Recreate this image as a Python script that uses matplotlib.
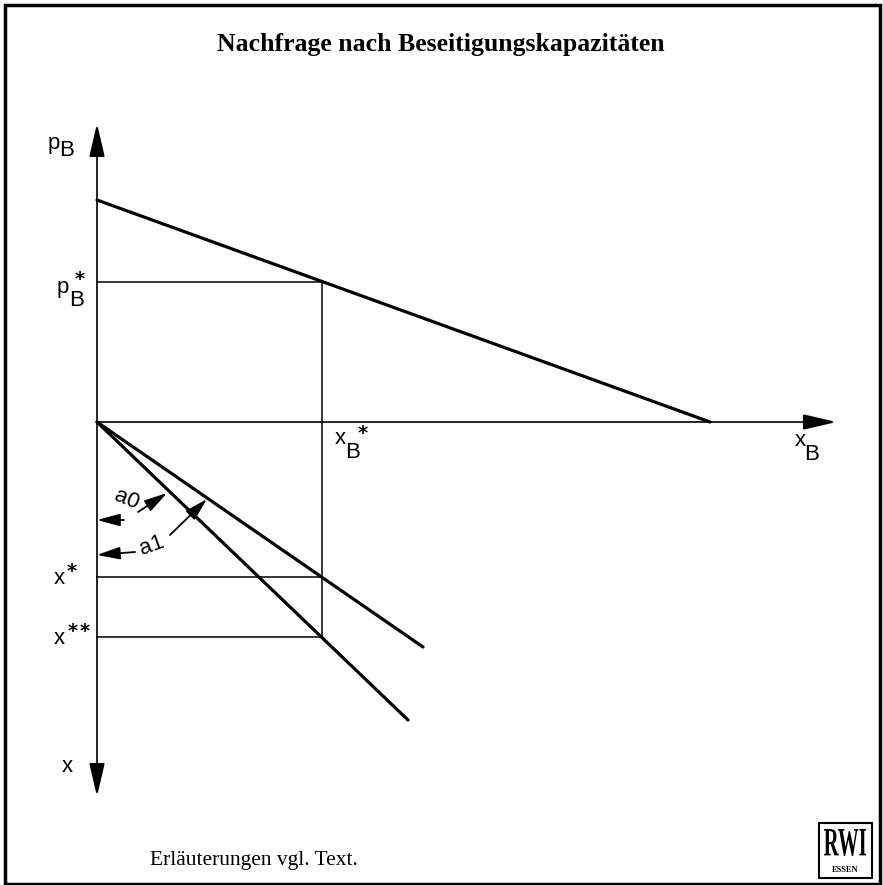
import matplotlib
matplotlib.use("Agg")
import matplotlib.pyplot as plt
from matplotlib.patches import Rectangle, Polygon, PathPatch
from matplotlib.textpath import TextPath
from matplotlib.font_manager import FontProperties
from matplotlib.transforms import Affine2D

# diagram units: origin where the two axes cross, x_B to the right, p_B up, x down
demand_xB = [0, 613]
demand_pB = [222, 0]
xB_star = 225
pB_star = 140
x_star = -155
x_2star = -215
ray_flat_xB = [0, 326]
ray_flat_x = [0, -225]
ray_steep_xB = [0, 311]
ray_steep_x = [0, -298]

W, H = 883, 885
fig = plt.figure(figsize=(W / 100, H / 100), dpi=100)
ax = fig.add_axes([0, 0, 1, 1])
ax.set_xlim(-97, W - 97)
ax.set_ylim(422 - H, 422)
ax.axis("off")

# pixel positions (top-left origin) for decoration / labels
pix = Affine2D().scale(1 / W, -1 / H).translate(0, 1) + fig.transFigure

sans = "Liberation Sans"
serif = "Liberation Serif"

# axes with arrow heads
ax.plot([0, 0], [-345, 268], color="black", lw=1.2)
ax.plot([0, 706], [0, 0], color="black", lw=1.2)


def head(tip, d, length=28, width=13):
    tx, ty = tip
    dx, dy = d
    bx, by = tx - dx * length, ty - dy * length
    px, py = -dy * width / 2, dx * width / 2
    ax.add_patch(Polygon([(tx, ty), (bx + px, by + py), (bx - px, by - py)],
                         closed=True, color="black", joinstyle="round", lw=1.5))


head((0, 294), (0, 1))
head((0, -370), (0, -1))
head((735, 0), (1, 0))

# demand curve
ax.plot(demand_xB, demand_pB, color="black", lw=2.3, solid_capstyle="round")
# equilibrium guide lines
ax.plot([0, xB_star], [pB_star, pB_star], color="black", lw=1.1)
ax.plot([xB_star, xB_star], [pB_star, x_2star], color="black", lw=1.1)
ax.plot([0, xB_star], [x_star, x_star], color="black", lw=1.1)
ax.plot([0, xB_star], [x_2star, x_2star], color="black", lw=1.1)
# rays
ax.plot(ray_flat_xB, ray_flat_x, color="black", lw=2.3, solid_capstyle="round")
ax.plot(ray_steep_xB, ray_steep_x, color="black", lw=2.3, solid_capstyle="round")

# angle markers
arr = dict(arrowstyle="-|>,head_length=1.4,head_width=0.38", color="black",
           lw=1.3, shrinkA=0, shrinkB=0, mutation_scale=10)
for a, b in [((124, 520), (97, 520)), ((138, 512), (167, 493)),
             ((135, 552), (97, 555)), ((170, 535), (207, 499))]:
    ax.annotate("", xy=b, xytext=a, xycoords=pix, textcoords=pix, arrowprops=arr)

ax.text(127, 500, "a0", transform=pix, family=sans, fontsize=16,
        rotation=-22, ha="center", va="center")
ax.text(152, 546, "a1", transform=pix, family=sans, fontsize=16,
        rotation=20, ha="center", va="center")


def lab(x, y, s, size=16, **kw):
    ax.text(x, y, s, transform=pix, family=sans, fontsize=size,
            ha="center", va="center", **kw)


def star(x, y):
    ax.text(x, y, "*", transform=pix, family="DejaVu Sans", fontsize=14,
            fontweight="bold", ha="center", va="center")


lab(54, 143, "p")
lab(67, 150, "B")
lab(63, 287, "p")
lab(77, 300, "B")
star(80, 280)
lab(340, 439, "x")
lab(353, 452, "B")
star(363, 434)
lab(800, 440, "x")
lab(812, 454, "B")
lab(59, 578, "x")
star(72, 572)
lab(59, 638, "x")
star(73, 632)
star(85, 632)
lab(67, 766, "x")

# title and footer
ax.text(441, 45, "Nachfrage nach Beseitigungskapazitäten", transform=pix,
        family=serif, fontsize=18.5, fontweight="bold", ha="center", va="center")
ax.text(150, 860, "Erläuterungen vgl. Text.", transform=pix,
        family=serif, fontsize=15.5, ha="left", va="center")

# outer frame
ax.add_patch(Rectangle((5, 5), 875, 879, transform=pix, fill=False,
                       ec="black", lw=2.5, clip_on=False))

# RWI logo
ax.add_patch(Rectangle((819, 823), 53, 55, transform=pix, fill=False,
                       ec="black", lw=1.5, clip_on=False))
tp = TextPath((0, 0), "RWI", size=10, prop=FontProperties(family=serif, weight="bold"))
ext = tp.get_extents()
t = (Affine2D().translate(-ext.x0, -ext.y0)
     .scale(42 / ext.width, -27 / ext.height).translate(824, 856) + pix)
ax.add_patch(PathPatch(tp, transform=t, color="black", lw=0, clip_on=False))
ax.text(845.5, 870, "ESSEN", transform=pix, family=serif, fontsize=6,
        fontweight="bold", ha="center", va="center")

fig.savefig("out.png", dpi=100)
